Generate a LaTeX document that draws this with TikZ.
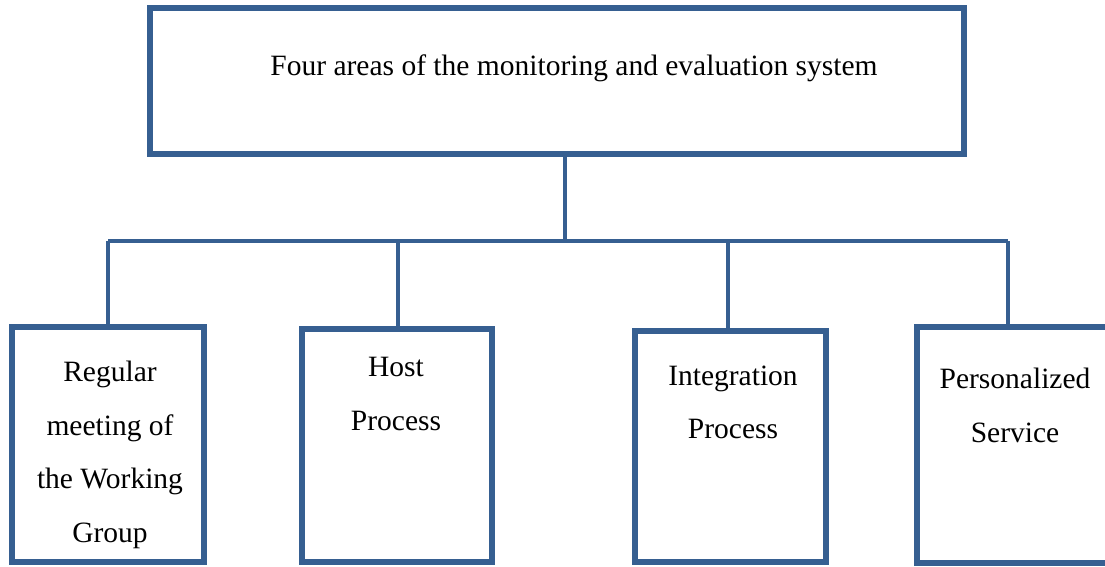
\documentclass[tikz,border=0pt]{standalone}
\usepackage{fontspec}
\setmainfont{Liberation Serif}
\usetikzlibrary{fit}
\definecolor{frame}{HTML}{365F91}
\tikzstyle{box} = [draw=frame, line width=2.1pt, inner sep=0pt]
\tikzstyle{link} = [draw=frame, line width=1.6pt]
\tikzstyle{txt} = [font=\fontsize{11.8}{21.4}\selectfont, align=center, anchor=north, inner sep=0pt]

\begin{document}
\begin{tikzpicture}[x=0.4pt,y=-0.4pt]
\useasboundingbox (0,0) rectangle (1105,566);
\node[box, line width=2.4pt, fit={(150,8) (964,154)}] (top) {};
\node[box, fit={(12,327) (204,562)}] (reg) {};
\node[box, fit={(302,329) (492,562)}] (host) {};
\node[box, fit={(635,331) (826,562)}] (integ) {};
\node[box, fit={(917,327) (1112,563)}] (pers) {};

\node[txt] (toptxt) at (574,54) {Four areas of the monitoring and evaluation system};
\node[txt] (regtxt) at (110,361) {Regular\\meeting of\\the Working\\Group};
\node[txt] (hosttxt) at (396,357) {Host\\Process};
\node[txt] (integtxt) at (733,365) {Integration\\Process};
\node[txt] (perstxt) at (1015,368) {Personalized\\Service};

\coordinate (bus) at (565,241);
\coordinate (b1) at (108,241);
\coordinate (b2) at (398,241);
\coordinate (b3) at (728,241);
\coordinate (b4) at (1008,241);
\draw[link] (top.south -| bus) -- (bus);
\draw[link] (b1) -- (b4);
\draw[link] (b1) -- (b1 |- reg.north);
\draw[link] (b2) -- (b2 |- host.north);
\draw[link] (b3) -- (b3 |- integ.north);
\draw[link] (b4) -- (b4 |- pers.north);
\end{tikzpicture}
\end{document}
